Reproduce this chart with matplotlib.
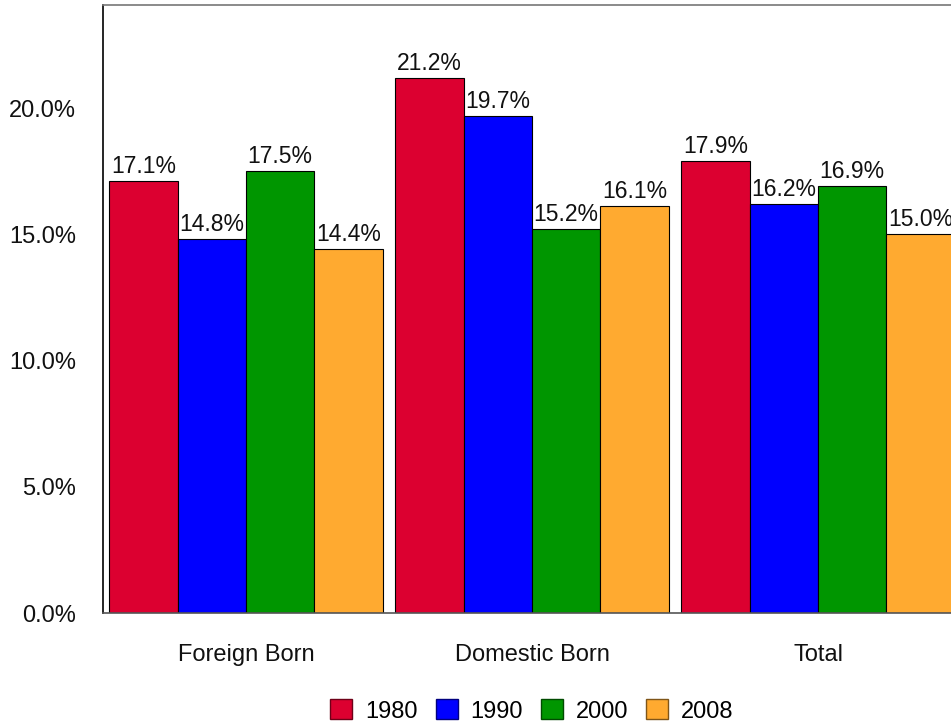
import matplotlib
matplotlib.use("Agg")
import matplotlib.pyplot as plt
import numpy as np
from matplotlib.patches import Patch

plt.rcParams['font.family'] = ['Liberation Sans', 'DejaVu Sans']

categories = ["Foreign Born", "Domestic Born", "Total"]
years = ["1980", "1990", "2000", "2008"]
values_1980 = [17.1, 21.2, 17.9]
values_1990 = [14.8, 19.7, 16.2]
values_2000 = [17.5, 15.2, 16.9]
values_2008 = [14.4, 16.1, 15.0]
yticks = [0, 5, 10, 15, 20]

series = [values_1980, values_1990, values_2000, values_2008]
colors = ["#DC0030", "#0000FF", "#009600", "#FFAA30"]
legend_edges = ["#6e0018", "#00007f", "#004b00", "#7f5518"]

W, H = 951, 728
fig = plt.figure(figsize=(W / 100, H / 100), dpi=100)
left, right, bottom, top = 103, 961, 613, 5
ax = fig.add_axes([left / W, 1 - bottom / H, (right - left) / W, (bottom - top) / H])

x = np.arange(len(categories))
bw = 0.2395
offsets = (np.arange(len(series)) - 1.5) * bw
for vals, col, off in zip(series, colors, offsets):
    bars = ax.bar(x + off, vals, width=bw, color=col, edgecolor="black", linewidth=0.8, zorder=2)
    for b, v in zip(bars, vals):
        ax.text(b.get_x() + b.get_width() / 2, v + 0.12, f"{v:.1f}%", ha="center", va="bottom",
                fontsize=16.5, color="#111111")

ax.set_xlim(-0.5, 2.5)
ax.set_ylim(0, 24.08)
ax.set_yticks(yticks)
ax.set_yticklabels([f"{t:.1f}%" for t in yticks], fontsize=17, color="#111111")
ax.set_xticks(x)
ax.set_xticklabels(categories, fontsize=17, color="#111111")
ax.tick_params(axis="y", length=0, pad=19.5)
ax.tick_params(axis="x", length=0, pad=22)

ax.spines["right"].set_visible(False)
ax.spines["left"].set_color("black")
ax.spines["left"].set_linewidth(1.2)
ax.spines["bottom"].set_color("#555555")
ax.spines["bottom"].set_linewidth(1.2)
ax.spines["top"].set_color("#777777")
ax.spines["top"].set_linewidth(1.2)

handles = [Patch(facecolor=c, edgecolor=e, linewidth=1.0) for c, e in zip(colors, legend_edges)]
fig.legend(handles, years, loc="center", bbox_to_anchor=(532 / W, 1 - 711 / H), ncol=4,
           frameon=False, fontsize=17, handlelength=0.93, handleheight=0.93,
           handletextpad=0.55, columnspacing=0.76)

fig.savefig("out.png", dpi=100)
